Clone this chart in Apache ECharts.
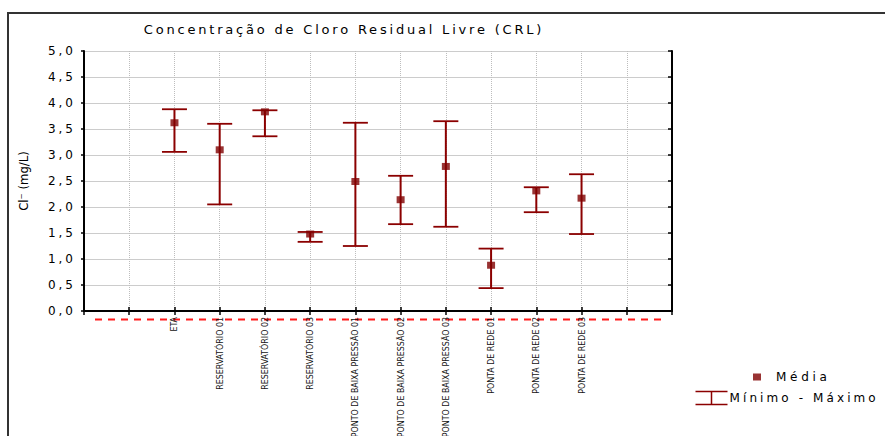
<!DOCTYPE html>
<html><head><meta charset="utf-8">
<script src="https://cdn.jsdelivr.net/npm/echarts@6/dist/echarts.min.js"></script>
<style>
html,body{margin:0;padding:0;background:#fff}
#c{width:885px;height:436px}
#c text[style*="sp28"]{letter-spacing:2.8px}
#c text[style*="sp30"]{letter-spacing:3px}
#c text[style*="sp37"]{letter-spacing:3.7px}
#c text[style*="sp31"]{letter-spacing:3.1px}
</style></head><body><div id="c"></div>
<script>
const titleText = 'Concentração de Cloro Residual Livre (CRL)';
const yAxisName = 'Cl\u207B (mg/L)';
const categories = ['ETA', 'RESERVATÓRIO 01', 'RESERVATÓRIO 02', 'RESERVATÓRIO 03',
  'PONTO DE BAIXA PRESSÃO 01', 'PONTO DE BAIXA PRESSÃO 02', 'PONTO DE BAIXA PRESSÃO 03',
  'PONTA DE REDE 01', 'PONTA DE REDE 02', 'PONTA DE REDE 03'];
const leadingSlots = [' ', '  '];
const trailingSlots = ['   ', '    '];
const meanValues = [3.62, 3.10, 3.83, 1.48, 2.49, 2.14, 2.78, 0.88, 2.31, 2.17];
const minValues  = [3.06, 2.05, 3.36, 1.33, 1.25, 1.67, 1.62, 0.44, 1.90, 1.48];
const maxValues  = [3.88, 3.60, 3.86, 1.52, 3.62, 2.60, 3.65, 1.20, 2.38, 2.63];
const yMin = 0, yMax = 5, yStep = 0.5;
const legendMean = 'Média';
const legendRange = 'Mínimo - Máximo';

const xSlots = leadingSlots.concat(categories, trailingSlots);
const DARK_RED = '#8b0000';
const rangeData = categories.map((c, i) => [c, minValues[i], maxValues[i]]);
const meanData = categories.map((c, i) => [c, meanValues[i]]);

const chart = echarts.init(document.getElementById('c'), null, {renderer: 'svg'});
const axisLine = {show: true, lineStyle: {color: '#000', width: 2}};
const NARROW = 'Liberation Sans Narrow, DejaVu Sans Condensed, sans-serif';
chart.setOption({
  animation: false,
  backgroundColor: '#fff',
  title: {
    text: titleText, left: 344, top: 23, textAlign: 'center', padding: 0,
    textStyle: {fontFamily: 'DejaVu Sans, sp28', fontSize: 13, fontWeight: 'normal', color: '#000'}
  },
  legend: [
    {
      data: [legendMean], left: 753, top: 371, padding: 0, orient: 'vertical',
      icon: 'rect', itemWidth: 8, itemHeight: 7, selectedMode: false,
      textStyle: {fontFamily: 'DejaVu Sans, sp37', fontSize: 12, color: '#000', padding: [0, 0, 0, 10]}
    },
    {
      data: [{name: legendRange, icon: 'path://M0,0H32M16,0V13M0,13H32',
              itemStyle: {color: 'none', borderColor: DARK_RED, borderWidth: 1.5}}],
      left: 693, top: 389, padding: 0, orient: 'vertical', itemWidth: 32, itemHeight: 13,
      itemGap: 0, selectedMode: false,
      textStyle: {fontFamily: 'DejaVu Sans, sp31', fontSize: 12, color: '#000', padding: [6, 0, 0, -3]}
    }
  ],
  grid: {left: 84, top: 51, right: 213, bottom: 125, containLabel: false, outerBoundsMode: 'none'},
  xAxis: [
    {
      type: 'category', data: xSlots, boundaryGap: false, position: 'bottom',
      axisLine: axisLine,
      axisTick: {show: true, inside: true, length: 4, interval: 0, lineStyle: {color: '#000', width: 1.5}},
      axisLabel: {interval: 0, rotate: 90, margin: 6, fontSize: 8.8, color: '#111', fontFamily: NARROW},
      splitLine: {show: true, interval: 0, lineStyle: {color: '#bdbdbd', type: 'dotted', width: 1}}
    },
    {
      type: 'category', data: xSlots, boundaryGap: false, position: 'top',
      axisLine: axisLine,
      axisTick: {show: true, inside: true, length: 4, interval: 0, lineStyle: {color: '#000', width: 1.5}},
      axisLabel: {show: false}, splitLine: {show: false}
    }
  ],
  yAxis: [
    {
      type: 'value', min: yMin, max: yMax, interval: yStep, position: 'left',
      name: yAxisName, nameLocation: 'middle', nameRotate: 90, nameGap: 54,
      nameTextStyle: {fontFamily: NARROW, fontSize: 13, color: '#000'},
      axisLine: axisLine,
      axisTick: {show: true, inside: false, length: 3, lineStyle: {color: '#000', width: 1.5}},
      axisLabel: {margin: 8, fontSize: 12, color: '#000', fontFamily: 'DejaVu Sans, sp30',
                  formatter: v => v.toFixed(1).replace('.', ',')},
      splitLine: {show: true, lineStyle: {color: '#cccccc', width: 1}}
    },
    {
      type: 'value', min: yMin, max: yMax, interval: yStep, position: 'right',
      axisLine: axisLine,
      axisTick: {show: true, inside: true, length: 4, lineStyle: {color: '#000', width: 1.5}},
      axisLabel: {show: false}, splitLine: {show: false}
    }
  ],
  series: [
    {
      name: legendRange, type: 'custom', xAxisIndex: 0, yAxisIndex: 0,
      data: rangeData, encode: {x: 0, y: [1, 2]},
      itemStyle: {color: DARK_RED},
      renderItem: function (params, api) {
        const top = api.coord([api.value(0), api.value(2)]);
        const bot = api.coord([api.value(0), api.value(1)]);
        const hw = 12.5;
        const st = {stroke: DARK_RED, lineWidth: 1.8};
        return {type: 'group', children: [
          {type: 'line', shape: {x1: top[0], y1: top[1], x2: bot[0], y2: bot[1]}, style: {stroke: DARK_RED, lineWidth: 2}},
          {type: 'line', shape: {x1: top[0] - hw, y1: top[1], x2: top[0] + hw, y2: top[1]}, style: st},
          {type: 'line', shape: {x1: bot[0] - hw, y1: bot[1], x2: bot[0] + hw, y2: bot[1]}, style: st}
        ]};
      }
    },
    {
      name: legendMean, type: 'scatter', xAxisIndex: 0, yAxisIndex: 0,
      data: meanData, symbol: 'rect', symbolSize: [8, 7], z: 5,
      itemStyle: {color: '#800000'}
    }
  ],
  graphic: [
    {type: 'rect', silent: true, shape: {x: 8, y: 13, width: 900, height: 440},
     style: {fill: 'none', stroke: '#333', lineWidth: 2}},
    {type: 'line', silent: true, shape: {x1: 95, y1: 319.5, x2: 662, y2: 319.5},
     style: {stroke: '#ff1a1a', lineWidth: 2, lineDash: [7, 6]}}
  ]
});
</script></body></html>
